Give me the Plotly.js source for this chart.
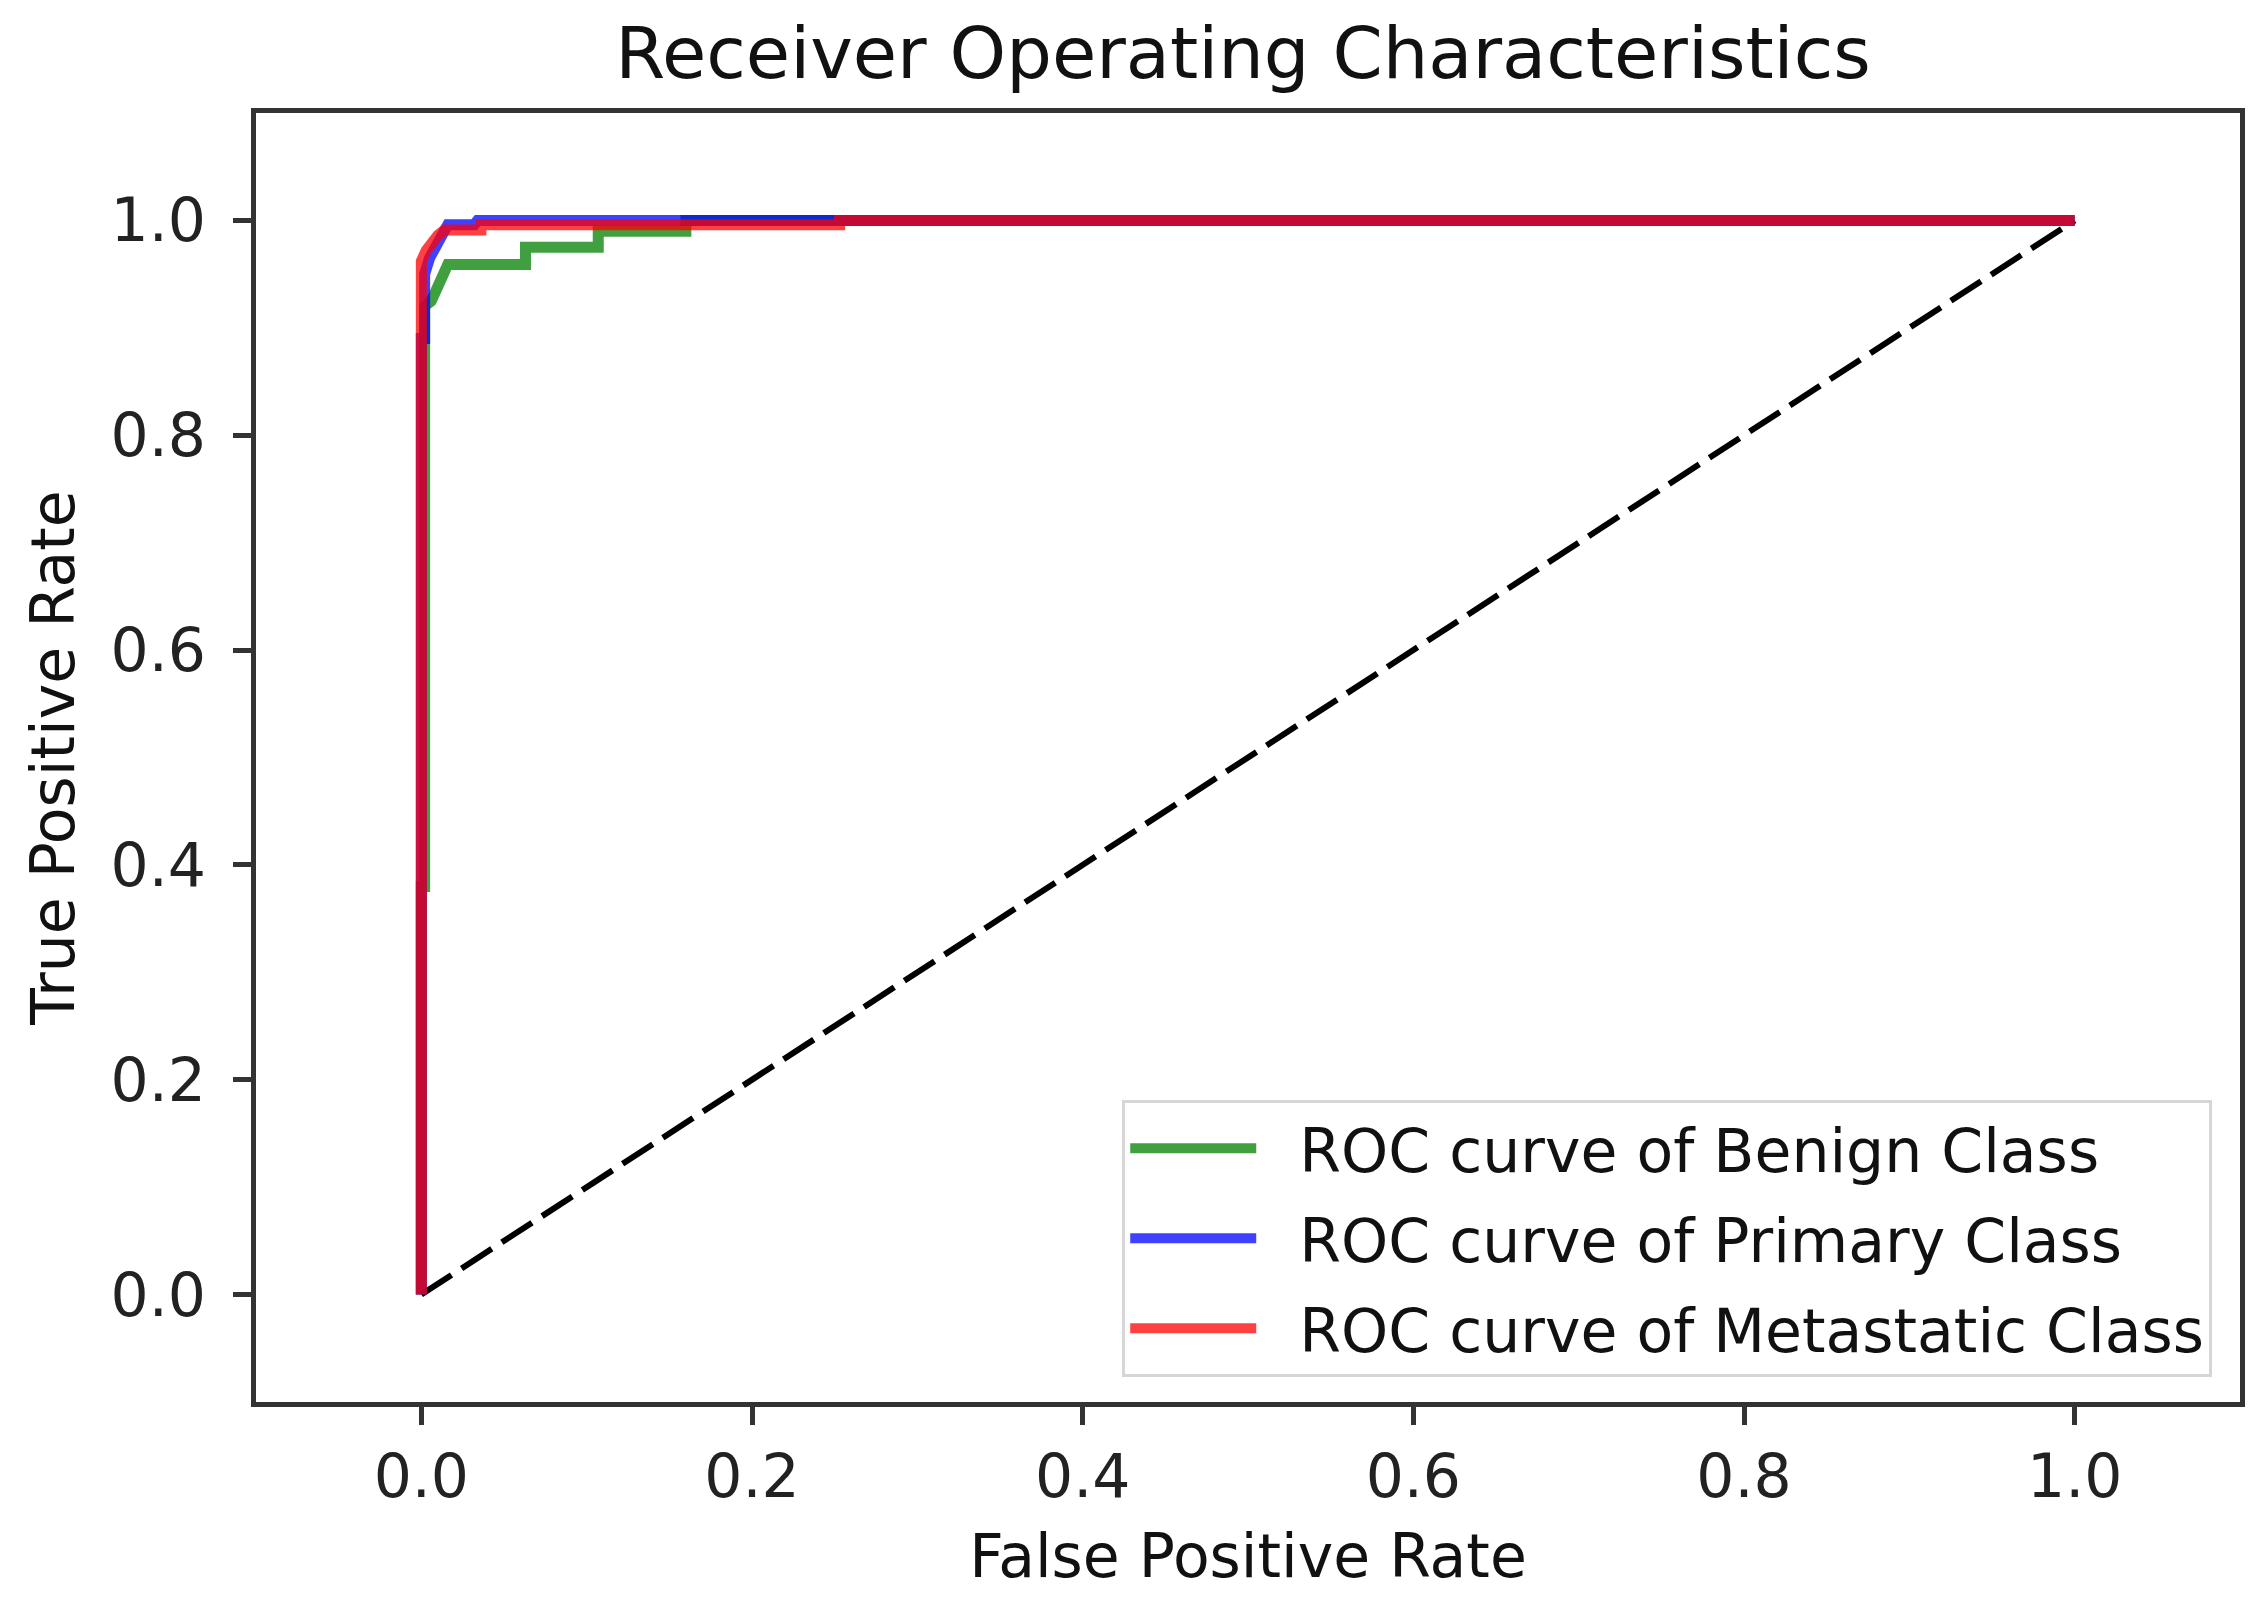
<!DOCTYPE html>
<html>
<head>
<meta charset="utf-8">
<script src="https://cdn.plot.ly/plotly-3.0.1.min.js"></script>
<style>
  html, body { margin: 0; padding: 0; background: #ffffff; }
  #chart { width: 2262px; height: 1616px; }
</style>
</head>
<body>
<div id="chart"></div>
<script>
// ---- data ----
const chartTitle = "Receiver Operating Characteristics";
const xTitle = "False Positive Rate";
const yTitle = "True Positive Rate";

const seriesNames = ["ROC curve of Benign Class", "ROC curve of Primary Class", "ROC curve of Metastatic Class"];

const benignFPR = [0, 0, 0.002, 0.002, 0.006, 0.009, 0.013, 0.016, 0.063, 0.063, 0.107, 0.107, 0.160, 0.160, 1.0];
const benignTPR = [0, 0.38, 0.38, 0.92, 0.925, 0.935, 0.945, 0.959, 0.959, 0.975, 0.975, 0.99, 0.99, 1.0, 1.0];

const primaryFPR = [0, 0, 0.002, 0.002, 0.005, 0.009, 0.013, 0.016, 0.032, 0.034, 1.0];
const primaryTPR = [0, 0.89, 0.89, 0.95, 0.965, 0.975, 0.985, 0.996, 0.996, 1.0, 1.0];

const metaFPR = [0, 0, 0.003, 0.006, 0.010, 0.014, 0.036, 0.036, 0.253, 0.253, 1.0];
const metaTPR = [0, 0.962, 0.972, 0.980, 0.986, 0.991, 0.991, 0.996, 0.996, 1.0, 1.0];

const chanceFPR = [0, 1];
const chanceTPR = [0, 1];

const tickVals = [0, 0.2, 0.4, 0.6, 0.8, 1.0];
const tickText = ["0.0", "0.2", "0.4", "0.6", "0.8", "1.0"];

// ---- styles ----
const FONT = "DejaVu Sans, sans-serif";
const colors = ["rgba(0,128,0,0.75)", "rgba(0,0,255,0.75)", "rgba(255,0,0,0.75)"];
const PAD = "\u00a0\u00a0";

const traces = [
  { x: chanceFPR, y: chanceTPR, mode: "lines", showlegend: false, hoverinfo: "skip",
    line: { color: "#000000", width: 6, dash: "36px,12px" } },
  { x: benignFPR, y: benignTPR, mode: "lines", name: PAD + seriesNames[0], legendgroup: "a",
    line: { color: colors[0], width: 11 } },
  { x: primaryFPR, y: primaryTPR, mode: "lines", name: PAD + seriesNames[1], legendgroup: "b",
    line: { color: colors[1], width: 11 } },
  { x: metaFPR, y: metaTPR, mode: "lines", name: PAD + seriesNames[2], legendgroup: "c",
    line: { color: colors[2], width: 11 } }
];

const axisCommon = {
  range: [-0.1, 1.1],
  showgrid: false,
  zeroline: false,
  showline: true,
  linecolor: "#333333",
  linewidth: 5,
  mirror: true,
  ticks: "outside",
  ticklen: 18,
  tickwidth: 5,
  tickcolor: "#333333",
  tickvals: tickVals,
  ticktext: tickText,
  tickfont: { family: FONT, size: 60, color: "#222222" }
};

const layout = {
  width: 2262,
  height: 1616,
  paper_bgcolor: "#ffffff",
  plot_bgcolor: "#ffffff",
  margin: { l: 256, r: 22, t: 113, b: 214, pad: 0 },
  title: {
    text: chartTitle,
    font: { family: FONT, size: 72, color: "#111111" },
    x: 0.5495, xref: "container", xanchor: "center",
    y: 1 - 53 / 1616, yref: "container", yanchor: "middle"
  },
  xaxis: Object.assign({}, axisCommon, {
    title: { text: xTitle, font: { family: FONT, size: 60, color: "#111111" }, standoff: 26 },
    ticklabelstandoff: 0
  }),
  yaxis: Object.assign({}, axisCommon, {
    title: { text: yTitle, font: { family: FONT, size: 60, color: "#111111" }, standoff: 18 },
    ticklabelstandoff: 15
  }),
  legend: {
    x: 0.986, y: 0.0195, xanchor: "right", yanchor: "bottom",
    bgcolor: "#ffffff",
    bordercolor: "#d6d6d6",
    borderwidth: 3,
    font: { family: FONT, size: 60, color: "#111111" },
    itemwidth: 126,
    traceorder: "grouped",
    tracegroupgap: 9
  },
  showlegend: true
};

Plotly.newPlot("chart", traces, layout, { displayModeBar: false, staticPlot: true });
</script>
</body>
</html>
